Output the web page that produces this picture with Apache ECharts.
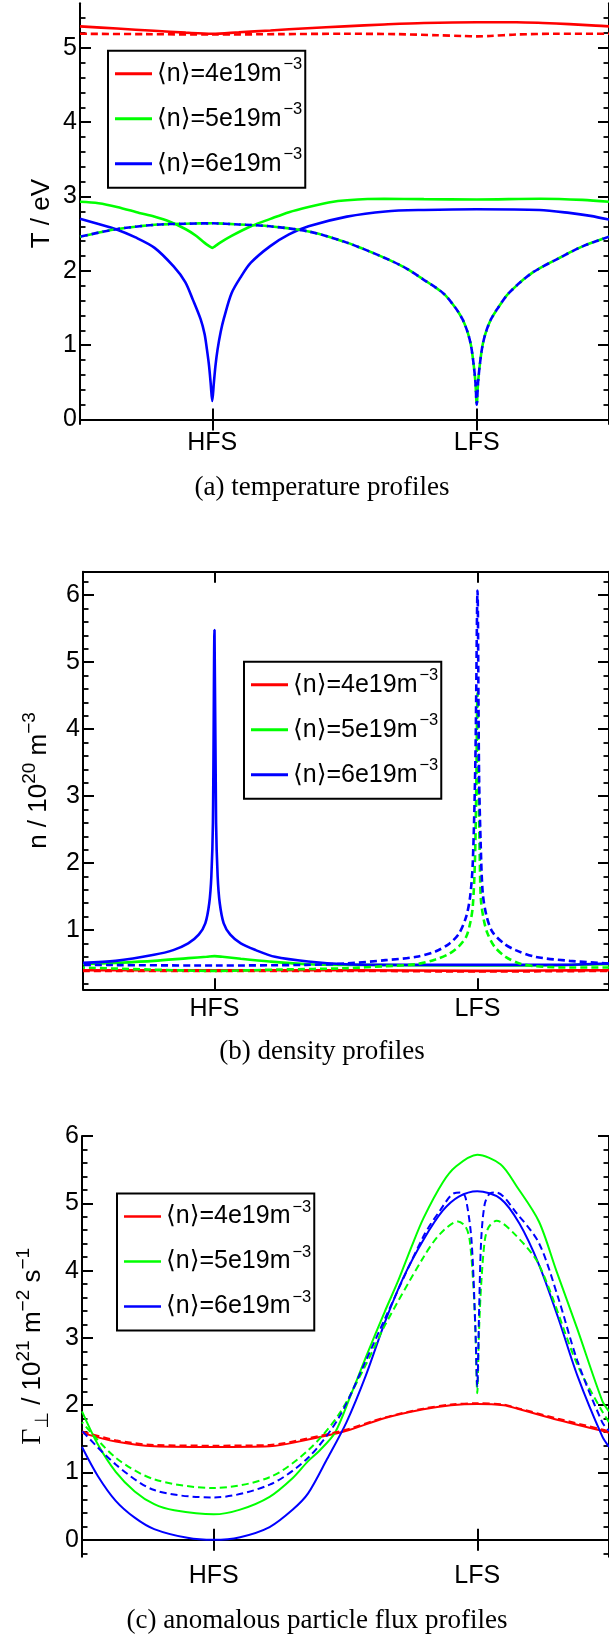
<!DOCTYPE html>
<html><head><meta charset="utf-8">
<script src="https://cdn.jsdelivr.net/npm/echarts@6/dist/echarts.min.js"></script>
<style>html,body{margin:0;padding:0;background:#fff}#c{width:609px;height:1636px}</style>
</head><body><div id="c"></div>
<script>
// ---------------- data ----------------
const xTickValues = [0.5, 1.5];
const xTickLabels = ['HFS', 'LFS'];
const densityLabels = ['4e19', '5e19', '6e19'];
const captions = ['(a) temperature profiles', '(b) density profiles', '(c) anomalous particle flux profiles'];

const tYTicks = [0, 1, 2, 3, 4, 5];
const nYTicks = [1, 2, 3, 4, 5, 6];
const gYTicks = [0, 1, 2, 3, 4, 5, 6];

// (a) temperature, eV   [poloidal position, value]
const tempSolid4 = [[0,5.29],[0.14,5.26],[0.28,5.23],[0.40,5.205],[0.5,5.19],[0.6,5.21],[0.72,5.235],[0.86,5.265],[1.0,5.29],[1.15,5.315],[1.3,5.335],[1.5,5.345],[1.65,5.345],[1.75,5.335],[1.85,5.32],[1.95,5.30],[2.0,5.29]];
const tempSolid5 = [[0,2.93],[0.07,2.91],[0.14,2.86],[0.224,2.78],[0.28,2.73],[0.34,2.66],[0.40,2.56],[0.44,2.47],[0.47,2.38],[0.49,2.33],[0.5,2.31],[0.51,2.33],[0.53,2.38],[0.573,2.47],[0.646,2.60],[0.72,2.70],[0.79,2.79],[0.864,2.86],[0.94,2.92],[1.01,2.95],[1.15,2.97],[1.3,2.965],[1.5,2.96],[1.74,2.97],[1.9,2.955],[2.0,2.93]];
const tempSolid6 = [[0,2.70],[0.07,2.63],[0.136,2.56],[0.21,2.45],[0.282,2.31],[0.354,2.06],[0.398,1.85],[0.427,1.61],[0.456,1.35],[0.471,1.15],[0.48,0.94],[0.488,0.72],[0.494,0.49],[0.5,0.25],[0.506,0.49],[0.512,0.72],[0.52,0.94],[0.532,1.18],[0.544,1.36],[0.573,1.70],[0.61,1.93],[0.646,2.11],[0.718,2.33],[0.79,2.49],[0.864,2.60],[1.009,2.73],[1.155,2.80],[1.3,2.82],[1.5,2.83],[1.737,2.82],[1.85,2.78],[1.93,2.74],[2.0,2.69]];
const tempDash4 = [[0,5.19],[0.25,5.185],[0.5,5.18],[0.75,5.185],[1.0,5.19],[1.2,5.185],[1.35,5.17],[1.45,5.16],[1.5,5.155],[1.55,5.16],[1.65,5.18],[1.8,5.19],[2.0,5.19]];
const tempDash5 = [[0,2.46],[0.136,2.56],[0.282,2.62],[0.4,2.635],[0.5,2.64],[0.6,2.625],[0.718,2.60],[0.864,2.53],[1.009,2.38],[1.155,2.17],[1.23,2.04],[1.30,1.88],[1.373,1.70],[1.42,1.50],[1.446,1.35],[1.465,1.18],[1.478,1.0],[1.488,0.75],[1.495,0.5],[1.5,0.20],[1.505,0.5],[1.512,0.75],[1.522,1.0],[1.535,1.18],[1.554,1.35],[1.58,1.50],[1.621,1.70],[1.708,1.97],[1.81,2.17],[1.90,2.33],[2.0,2.46]];
const tempDash6 = [[0,2.46],[0.136,2.56],[0.282,2.62],[0.4,2.635],[0.5,2.64],[0.6,2.625],[0.718,2.60],[0.864,2.53],[1.009,2.38],[1.155,2.17],[1.23,2.04],[1.30,1.88],[1.373,1.70],[1.42,1.50],[1.446,1.35],[1.465,1.18],[1.478,1.0],[1.488,0.75],[1.495,0.5],[1.5,0.20],[1.505,0.5],[1.512,0.75],[1.522,1.0],[1.535,1.18],[1.554,1.35],[1.58,1.50],[1.621,1.70],[1.708,1.97],[1.81,2.17],[1.90,2.33],[2.0,2.46]];

// (b) density, 1e20 m^-3
const densSolid4 = [[0,0.40],[0.5,0.40],[1.0,0.40],[1.5,0.39],[1.75,0.395],[2.0,0.40]];
const densSolid5 = [[0,0.49],[0.124,0.51],[0.27,0.54],[0.4,0.58],[0.47,0.60],[0.5,0.61],[0.53,0.60],[0.6,0.57],[0.709,0.53],[0.856,0.49],[1.0,0.48],[1.5,0.47],[1.8,0.475],[2.0,0.49]];
const densSolid6 = [[0,0.51],[0.124,0.54],[0.27,0.63],[0.343,0.70],[0.40,0.80],[0.44,0.93],[0.465,1.1],[0.48,1.4],[0.488,1.8],[0.494,2.6],[0.5,5.48],[0.506,2.6],[0.512,1.8],[0.52,1.4],[0.535,1.1],[0.56,0.93],[0.60,0.80],[0.657,0.70],[0.73,0.60],[0.856,0.53],[1.0,0.49],[1.2,0.48],[1.5,0.48],[1.8,0.48],[2.0,0.50]];
const densDash4 = [[0,0.39],[0.5,0.39],[1.0,0.39],[1.5,0.38],[2.0,0.39]];
const densDash5 = [[0,0.44],[0.25,0.41],[0.5,0.39],[0.75,0.41],[1.0,0.43],[1.15,0.46],[1.268,0.49],[1.34,0.56],[1.394,0.65],[1.43,0.76],[1.457,0.90],[1.472,1.1],[1.482,1.35],[1.49,2.0],[1.495,3.04],[1.5,4.54],[1.505,3.0],[1.509,2.0],[1.513,1.45],[1.524,1.15],[1.538,0.95],[1.565,0.75],[1.607,0.60],[1.66,0.50],[1.72,0.46],[1.85,0.44],[2.0,0.44]];
const densDash6 = [[0,0.48],[0.5,0.47],[0.85,0.48],[1.0,0.50],[1.15,0.55],[1.268,0.60],[1.34,0.68],[1.394,0.80],[1.43,0.95],[1.457,1.2],[1.472,1.5],[1.482,2.0],[1.492,3.54],[1.5,6.07],[1.506,3.3],[1.512,2.3],[1.52,1.55],[1.535,1.2],[1.557,0.97],[1.6,0.80],[1.645,0.70],[1.72,0.60],[1.85,0.54],[2.0,0.50]];

// (c) anomalous particle flux, 1e21 m^-2 s^-1
const fluxSolid4 = [[0,1.59],[0.128,1.46],[0.274,1.39],[0.5,1.38],[0.712,1.39],[0.858,1.49],[1.004,1.62],[1.15,1.81],[1.296,1.94],[1.4,2.0],[1.5,2.02],[1.6,2.0],[1.66,1.94],[1.807,1.78],[1.974,1.62],[2.0,1.59]];
const fluxSolid5 = [[0,1.91],[0.06,1.42],[0.128,1.01],[0.2,0.72],[0.274,0.53],[0.35,0.44],[0.5,0.38],[0.6,0.45],[0.712,0.64],[0.8,0.92],[0.858,1.17],[0.9,1.32],[0.96,1.59],[1.02,2.15],[1.077,2.71],[1.15,3.40],[1.2,3.85],[1.25,4.35],[1.296,4.78],[1.369,5.31],[1.42,5.55],[1.5,5.72],[1.588,5.58],[1.65,5.25],[1.734,4.73],[1.8,4.0],[1.88,3.13],[1.974,2.07],[2.0,1.91]];
const fluxSolid6 = [[0,1.38],[0.06,0.95],[0.128,0.58],[0.2,0.33],[0.274,0.16],[0.4,0.03],[0.5,0.0],[0.6,0.04],[0.712,0.19],[0.8,0.45],[0.858,0.69],[0.93,1.2],[1.004,1.75],[1.077,2.44],[1.15,3.24],[1.22,3.9],[1.296,4.46],[1.369,4.89],[1.43,5.10],[1.5,5.18],[1.588,5.07],[1.66,4.7],[1.734,4.09],[1.807,3.3],[1.88,2.44],[1.974,1.54],[2.0,1.38]];
const fluxDash4 = [[0,1.61],[0.128,1.48],[0.274,1.41],[0.5,1.40],[0.712,1.41],[0.858,1.51],[1.004,1.64],[1.15,1.82],[1.296,1.95],[1.4,2.01],[1.5,2.03],[1.6,2.01],[1.66,1.95],[1.807,1.80],[1.974,1.64],[2.0,1.61]];
const fluxDash5 = [[0,1.75],[0.128,1.22],[0.274,0.90],[0.5,0.77],[0.712,0.93],[0.858,1.33],[0.974,1.86],[1.077,2.60],[1.15,3.19],[1.296,4.20],[1.36,4.55],[1.427,4.73],[1.456,4.65],[1.471,4.46],[1.485,3.8],[1.493,3.13],[1.5,2.18],[1.507,3.13],[1.515,3.8],[1.529,4.46],[1.544,4.65],[1.573,4.74],[1.64,4.55],[1.734,4.09],[1.88,2.60],[1.974,1.91],[2.0,1.75]];
const fluxDash6 = [[0,1.62],[0.128,1.12],[0.274,0.74],[0.5,0.63],[0.712,0.82],[0.858,1.22],[0.974,1.81],[1.077,2.66],[1.15,3.29],[1.296,4.51],[1.36,4.9],[1.412,5.15],[1.44,5.16],[1.456,5.08],[1.478,4.46],[1.493,3.13],[1.5,2.28],[1.507,3.4],[1.515,4.46],[1.529,5.0],[1.55,5.15],[1.573,5.16],[1.65,4.85],[1.734,4.41],[1.807,3.6],[1.88,2.66],[1.974,1.75],[2.0,1.62]];

// ---------------- layout / style ----------------
const SANS = "'Liberation Sans', 'DejaVu Sans', sans-serif";
const SERIF = "'Liberation Serif', 'DejaVu Serif', serif";
const COLORS = ['#ff0000', '#00ff00', '#0000ff'];

const panels = [
  { grid: {left: 80, top: 3.3, width: 532, height: 420.7}, range: [-0.06, 5.6], majors: tYTicks,
    solid: [tempSolid4, tempSolid5, tempSolid6], dash: [tempDash4, tempDash5, tempDash6], lw: 2.6, legendLw: 3,
    legend: {left: 108, top: 50.7},
    name: '{a|T / eV}', nameGap: 23, caption: [322, 488] },
  { grid: {left: 83, top: 571.7, width: 532, height: 417.6}, range: [0.115, 6.35], majors: nYTicks,
    solid: [densSolid4, densSolid5, densSolid6], dash: [densDash4, densDash5, densDash6], lw: 2.6, legendLw: 3,
    legend: {left: 244, top: 661.7},
    name: '{m|n / 10}{s|20}{m| m}{s|\u22123}', nameGap: 25, caption: [322, 1051.7] },
  { grid: {left: 82, top: 1136, width: 532, height: 420.7}, range: [-0.25, 6], majors: gYTicks,
    solid: [fluxSolid4, fluxSolid5, fluxSolid6], dash: [fluxDash4, fluxDash5, fluxDash6], lw: 2, legendLw: 2.6,
    legend: {left: 117, top: 1193.5},
    name: '{g|\u0393}{b|\u22a5}{m| / 10}{s|21}{m| m}{s|\u22122}{m| s}{s|\u22121}', nameGap: 30, caption: [317, 1620.7] }
];

function minorsOf(range) {
  const out = [];
  const lo = Math.ceil(range[0] / 0.2 - 1e-9), hi = Math.floor(range[1] / 0.2 + 1e-9);
  for (let k = lo; k <= hi; k++) {
    const v = +(k * 0.2).toFixed(4);
    if (Math.abs(v - Math.round(v)) > 1e-6 && v > range[0] + 0.02 && v < range[1] - 0.02) out.push(v);
  }
  return out;
}

const nameRich = {
  a: {fontFamily: SANS, fontSize: 26, lineHeight: 30, color: '#000'},
  m: {fontFamily: SANS, fontSize: 26, lineHeight: 38, color: '#000'},
  s: {fontFamily: SANS, fontSize: 19, lineHeight: 19, verticalAlign: 'top', color: '#000'},
  g: {fontFamily: SERIF, fontSize: 28, lineHeight: 38, color: '#000'},
  b: {fontFamily: SANS, fontSize: 19, lineHeight: 19, verticalAlign: 'bottom', color: '#000'}
};

const option = {
  animation: false,
  backgroundColor: '#ffffff',
  grid: [], xAxis: [], yAxis: [], series: [], legend: [], graphic: []
};

panels.forEach((p, i) => {
  option.grid.push(Object.assign({containLabel: false}, p.grid));
  const axisLine = {show: true, lineStyle: {color: '#000', width: 2}};
  option.xAxis.push({
    type: 'value', gridIndex: i, min: 0, max: 2, position: 'bottom',
    axisLine: axisLine, splitLine: {show: false},
    axisTick: {show: true, inside: true, length: 11, customValues: xTickValues, lineStyle: {width: 2, color: '#000'}},
    axisLabel: {show: true, customValues: xTickValues, margin: 7, fontFamily: SANS, fontSize: 25, color: '#000',
      formatter: v => xTickLabels[xTickValues.indexOf(v)] || ''}
  });
  option.xAxis.push({
    type: 'value', gridIndex: i, min: 0, max: 2, position: 'top',
    axisLine: axisLine, splitLine: {show: false},
    axisTick: {show: true, inside: true, length: 11, customValues: xTickValues, lineStyle: {width: 2, color: '#000'}},
    axisLabel: {show: false}
  });
  const minors = minorsOf(p.range);
  const yBase = {type: 'value', gridIndex: i, min: p.range[0], max: p.range[1], splitLine: {show: false}};
  const yIdx = option.yAxis.length;
  option.yAxis.push(Object.assign({}, yBase, {
    position: 'left', axisLine: axisLine,
    axisTick: {show: true, inside: true, length: 11, customValues: p.majors, lineStyle: {width: 2, color: '#000'}},
    axisLabel: {show: true, customValues: p.majors, margin: 3, fontFamily: SANS, fontSize: 25, color: '#000'},
    name: p.name, nameLocation: 'middle', nameRotate: 90, nameGap: p.nameGap, nameMoveOverlap: false,
    nameTextStyle: {fontFamily: SANS, fontSize: 26, color: '#000', rich: nameRich}
  }));
  option.yAxis.push(Object.assign({}, yBase, {
    position: 'left', axisLine: {show: false}, axisLabel: {show: false},
    axisTick: {show: true, inside: true, length: 5.5, customValues: minors, lineStyle: {width: 1.8, color: '#000'}}
  }));
  option.yAxis.push(Object.assign({}, yBase, {
    position: 'right', axisLine: axisLine, axisLabel: {show: false},
    axisTick: {show: true, inside: true, length: 11, customValues: p.majors, lineStyle: {width: 2, color: '#000'}}
  }));
  option.yAxis.push(Object.assign({}, yBase, {
    position: 'right', axisLine: {show: false}, axisLabel: {show: false},
    axisTick: {show: true, inside: true, length: 5.5, customValues: minors, lineStyle: {width: 1.8, color: '#000'}}
  }));
  const legendNames = [];
  const labelMap = {};
  p.solid.forEach((d, k) => {
    const nm = 'p' + i + 's' + k;
    legendNames.push(nm);
    labelMap[nm] = densityLabels[k];
    option.series.push({
      type: 'line', name: nm, xAxisIndex: 2 * i, yAxisIndex: yIdx, data: d,
      symbol: 'none', showSymbol: false, silent: true, z: 2, smooth: 0.3,
      lineStyle: {color: COLORS[k], width: p.lw, type: 'solid'}, itemStyle: {color: COLORS[k]}
    });
  });
  p.dash.forEach((d, k) => {
    option.series.push({
      type: 'line', name: 'p' + i + 'd' + k, xAxisIndex: 2 * i, yAxisIndex: yIdx, data: d,
      symbol: 'none', showSymbol: false, silent: true, z: 3, smooth: 0.3,
      lineStyle: {color: COLORS[k], width: p.lw, type: [7, 4], dashOffset: k * 5}, itemStyle: {color: COLORS[k]}
    });
  });
  option.legend.push({
    data: legendNames, orient: 'vertical', left: p.legend.left, top: p.legend.top,
    padding: [5, 3, 6, 7], itemWidth: 37, itemHeight: p.legendLw, itemGap: 9,
    icon: 'rect',
    backgroundColor: '#fff', borderColor: '#000', borderWidth: 2, borderRadius: 0,
    selectedMode: false,
    formatter: nm => '{t|\u27e8n\u27e9=' + labelMap[nm] + 'm}{s|\u22123}',
    textStyle: {fontFamily: SANS, fontSize: 25, color: '#000', lineHeight: 36,
      rich: {
        t: {fontFamily: SANS, fontSize: 25, lineHeight: 36, color: '#000'},
        s: {fontFamily: SANS, fontSize: 16.5, lineHeight: 16, verticalAlign: 'top', color: '#000', padding: [0, 0, 0, 2]}
      }}
  });
  option.graphic.push({
    type: 'text', x: p.caption[0], y: p.caption[1], silent: true,
    style: {text: captions[i], fontFamily: SERIF, fontSize: 27, fill: '#000', align: 'center', verticalAlign: 'middle'}
  });
});

const chart = echarts.init(document.getElementById('c'), null, {renderer: 'canvas'});
chart.setOption(option);
</script>
</body></html>
